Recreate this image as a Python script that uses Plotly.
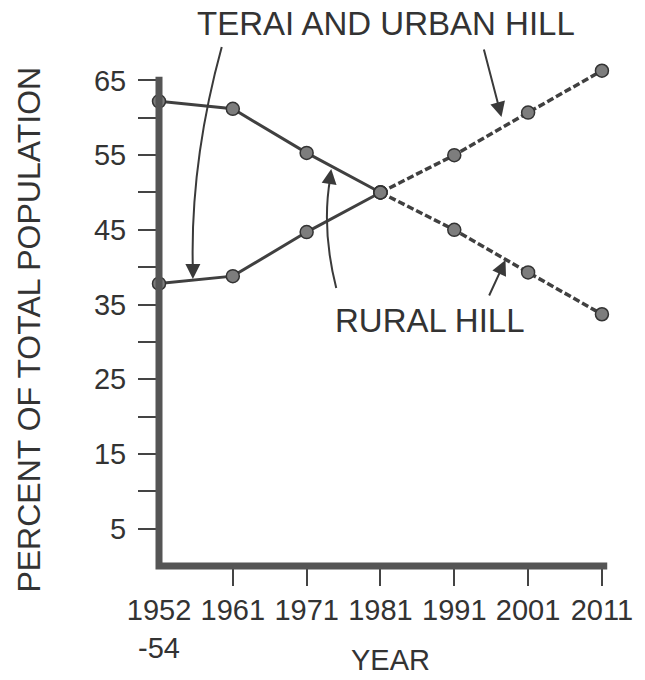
import plotly.graph_objects as go

# données
years = ["1952<br>-54", "1961", "1971", "1981", "1991", "2001", "2011"]
x_pos = [0, 1, 2, 3, 4, 5, 6]
rural_hill = [62.2, 61.2, 55.3, 50.0, 45.0, 39.3, 33.7]
terai_urban = [37.8, 38.8, 44.7, 50.0, 55.0, 60.7, 66.3]
y_ticks = [5, 15, 25, 35, 45, 55, 65]
y_minor = [10, 20, 30, 40, 50, 60]
last_observed = 3  # 1981, la suite est projetée

INK = "#333333"
FONT = "Liberation Sans, Arial, sans-serif"

# géométrie de la zone de tracé (pixels)
L, B = 159, 566
W, H = 456, 502


def paper(px, py):
    return (px - L) / W, (B - py) / H


fig = go.Figure()

for vals in (rural_hill, terai_urban):
    # partie observée (trait plein)
    fig.add_trace(go.Scatter(
        x=x_pos[:last_observed + 1], y=vals[:last_observed + 1],
        mode="lines+markers",
        line=dict(color="#404040", width=3),
        marker=dict(size=13, color="#7d7d7d", line=dict(color="#333333", width=1.5)),
        cliponaxis=False, showlegend=False,
    ))
    # projection (pointillés)
    fig.add_trace(go.Scatter(
        x=x_pos[last_observed:], y=vals[last_observed:],
        mode="lines+markers",
        line=dict(color="#404040", width=3.5, dash="7px,3px"),
        marker=dict(size=13, color="#7d7d7d", line=dict(color="#333333", width=1.5)),
        cliponaxis=False, showlegend=False,
    ))

# axes épais
fig.add_shape(type="path", xref="paper", yref="paper",
              path="M 0,{:.4f} L 0,0 L {:.4f},0".format((65.5 * 7.47) / H, (6.07 * 74.17) / W),
              line=dict(color="#555555", width=7))


def curve(p0, c, p1):
    a, b, d = paper(*p0), paper(*c), paper(*p1)
    fig.add_shape(type="path", xref="paper", yref="paper",
                  path=f"M {a[0]:.4f},{a[1]:.4f} Q {b[0]:.4f},{b[1]:.4f} {d[0]:.4f},{d[1]:.4f}",
                  line=dict(color="#3a3a3a", width=2))


def arrow(tip, ax, ay):
    x, y = paper(*tip)
    fig.add_annotation(x=x, y=y, xref="paper", yref="paper", text="",
                       showarrow=True, ax=ax, ay=ay, arrowhead=2, arrowsize=1.5,
                       arrowwidth=2, arrowcolor="#3a3a3a")


def label(text, px, py, size):
    x, y = paper(px, py)
    fig.add_annotation(x=x, y=y, xref="paper", yref="paper", text=text,
                       showarrow=False, xanchor="center", yanchor="middle",
                       font=dict(family=FONT, size=size, color=INK))


# flèches
curve((222, 47), (190, 163), (193, 270))
arrow((193, 279), 0, -14)
arrow((503, 117), -18, -69)
curve((337, 288), (322, 229), (331, 178))
arrow((332, 169), -2, 14)
arrow((507, 260), -17, 37)

label("TERAI AND URBAN HILL", 387, 23, 33)
label("RURAL HILL", 431, 320, 33)
label("YEAR", 392, 660, 29)
fig.add_annotation(x=paper(28, 330)[0], y=paper(28, 330)[1], xref="paper", yref="paper",
                   text="PERCENT OF TOTAL POPULATION", textangle=-90, showarrow=False,
                   xanchor="center", yanchor="middle",
                   font=dict(family=FONT, size=32, color=INK))

fig.update_layout(
    width=645, height=680,
    margin=dict(l=L, r=645 - L - W, t=B - H, b=680 - B, pad=0),
    paper_bgcolor="white", plot_bgcolor="white",
    font=dict(family=FONT, size=29, color=INK),
    xaxis=dict(
        range=[0, 6.15], showgrid=False, zeroline=False, showline=False,
        tickvals=x_pos, ticktext=years, ticks="", ticklabelstandoff=24,
        minor=dict(tickvals=x_pos[1:], ticks="outside", ticklen=19,
                   tickwidth=2, tickcolor="#444444", showgrid=False),
    ),
    yaxis=dict(
        range=[0, 67.2], showgrid=False, zeroline=False, showline=False,
        tickvals=y_ticks, ticks="outside", ticklen=20, tickwidth=2,
        tickcolor="#444444", ticklabelstandoff=6,
        minor=dict(tickvals=y_minor, ticks="outside", ticklen=20,
                   tickwidth=2, tickcolor="#444444", showgrid=False),
    ),
)

fig.write_html("out.html", config={"displayModeBar": False},
               post_script="document.body.style.margin='0';")
